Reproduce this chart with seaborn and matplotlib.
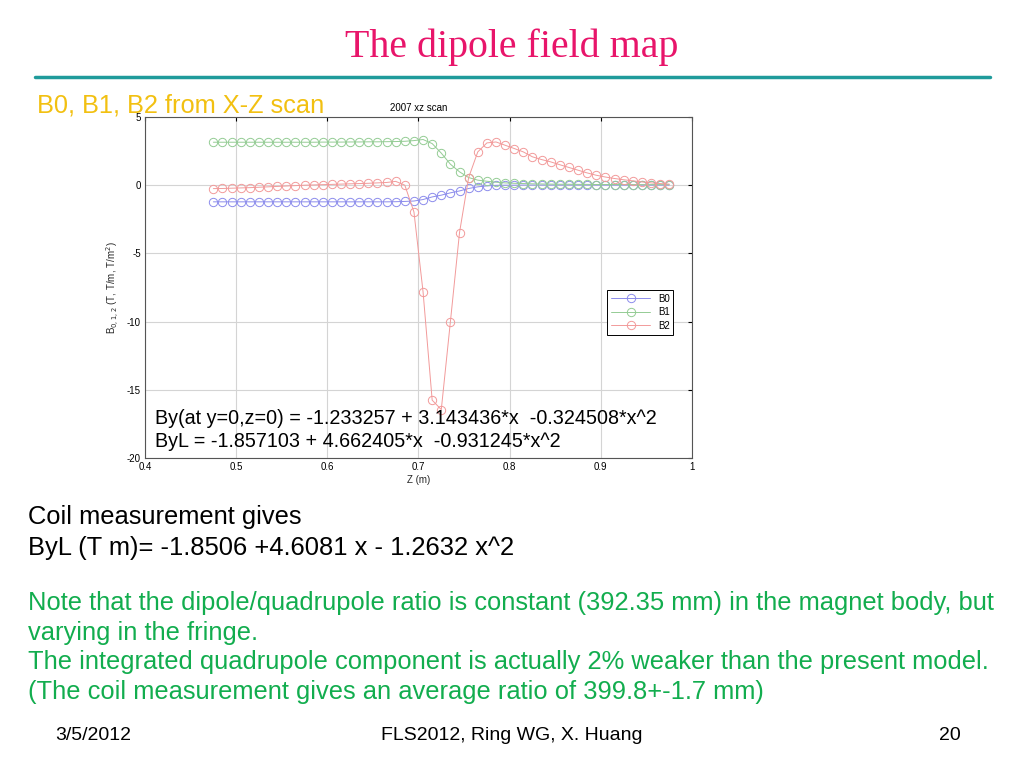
import numpy as np
import pandas as pd
import seaborn as sns
import matplotlib.pyplot as plt
from matplotlib.lines import Line2D

# data (Z in m, field components)
z = [0.475, 0.485, 0.495, 0.505, 0.515, 0.525, 0.535, 0.545, 0.555, 0.565,
     0.575, 0.585, 0.595, 0.605, 0.615, 0.625, 0.635, 0.645, 0.655, 0.665,
     0.675, 0.685, 0.695, 0.705, 0.715, 0.725, 0.735, 0.745, 0.755, 0.765,
     0.775, 0.785, 0.795, 0.805, 0.815, 0.825, 0.835, 0.845, 0.855, 0.865,
     0.875, 0.885, 0.895, 0.905, 0.915, 0.925, 0.935, 0.945, 0.955, 0.965,
     0.975]
b0 = [-1.22, -1.22, -1.22, -1.22, -1.22, -1.22, -1.22, -1.22, -1.22, -1.22,
      -1.22, -1.22, -1.22, -1.22, -1.22, -1.22, -1.22, -1.22, -1.22, -1.22,
      -1.21, -1.19, -1.16, -1.05, -0.86, -0.73, -0.56, -0.42, -0.24, -0.12,
      -0.05, -0.01, 0.0, 0.0, 0.01, 0.01, 0.01, 0.01, 0.01, 0.01,
      0.01, 0.01, 0.01, 0.01, 0.01, 0.01, 0.01, 0.01, 0.01, 0.01,
      0.01]
b1 = [3.15, 3.15, 3.15, 3.15, 3.15, 3.15, 3.15, 3.15, 3.15, 3.15,
      3.15, 3.15, 3.16, 3.16, 3.16, 3.17, 3.17, 3.18, 3.18, 3.19,
      3.2, 3.22, 3.27, 3.35, 3.05, 2.35, 1.54, 0.98, 0.56, 0.37,
      0.29, 0.22, 0.17, 0.14, 0.12, 0.1, 0.09, 0.08, 0.07, 0.07,
      0.06, 0.06, 0.05, 0.05, 0.05, 0.05, 0.04, 0.04, 0.04, 0.04,
      0.04]
b2 = [-0.25, -0.24, -0.22, -0.2, -0.18, -0.15, -0.12, -0.09, -0.06, -0.03,
      0.0, 0.02, 0.04, 0.06, 0.08, 0.1, 0.12, 0.14, 0.17, 0.2,
      0.28, 0.0, -1.96, -7.82, -15.76, -16.45, -10.0, -3.47, 0.56, 2.44,
      3.1, 3.17, 2.93, 2.69, 2.44, 2.08, 1.88, 1.71, 1.5, 1.3,
      1.1, 0.9, 0.73, 0.6, 0.49, 0.4, 0.32, 0.24, 0.17, 0.12,
      0.08]

series_names = ["B0", "B1", "B2"]
series_colors = ["#8c8cec", "#94cc94", "#f29a9a"]

fit_lines = ["By(at y=0,z=0) = -1.233257 + 3.143436*x  -0.324508*x^2",
             "ByL = -1.857103 + 4.662405*x  -0.931245*x^2"]
coil_lines = ["Coil measurement gives",
              "ByL (T m)= -1.8506 +4.6081 x - 1.2632 x^2"]
note_lines = ["Note that the dipole/quadrupole ratio is constant (392.35 mm) in the magnet body, but",
              "varying in the fringe.",
              "The integrated quadrupole component is actually 2% weaker than the present model.",
              "(The coil measurement gives an average ratio of 399.8+-1.7 mm)"]

df = pd.DataFrame({"z": z * 3,
                   "B": b0 + b1 + b2,
                   "series": sum([[n] * len(z) for n in series_names], [])})

sns.set_style("white")
plt.rcParams['font.family'] = ['Liberation Sans', 'DejaVu Sans']
plt.rcParams['axes.unicode_minus'] = False
plt.rcParams['text.color'] = 'black'

fig = plt.figure(figsize=(10.24, 7.68), dpi=100)

# slide decorations
fig.text(0.5, 1 - 47 / 768, "The dipole field map", ha="center", va="center",
         fontsize=28.7, color="#e8156a", family=["Liberation Serif", "DejaVu Serif"])
fig.add_artist(Line2D([35 / 1024, 990 / 1024], [1 - 77 / 768, 1 - 77 / 768],
                      color="#1f9b9b", lw=2.5))
fig.text(37 / 1024, 1 - 105 / 768, "B0, B1, B2 from X-Z scan", ha="left", va="center",
         fontsize=18.3, color="#f2c011")

ax = fig.add_axes([145 / 1024, 1 - 458 / 768, 547 / 1024, 341 / 768])
for name, col in zip(series_names, series_colors):
    sns.lineplot(data=df[df.series == name], x="z", y="B", ax=ax, color=col,
                 marker="o", markersize=6, markerfacecolor="none",
                 markeredgecolor=col, markeredgewidth=0.7, lw=0.7,
                 label=name, sort=False)

ax.set_xlim(0.4, 1)
ax.set_ylim(-20, 5)
ax.set_xticks([0.4, 0.5, 0.6, 0.7, 0.8, 0.9, 1.0])
ax.set_xticklabels(["0.4", "0.5", "0.6", "0.7", "0.8", "0.9", "1"])
ax.set_yticks([-20, -15, -10, -5, 0, 5])
ax.grid(True, color="#d4d4d4", lw=0.8)
ax.tick_params(direction="in", length=3, width=0.8, labelsize=7, top=True, right=True,
               colors="black", pad=3)
for s in ax.spines.values():
    s.set_color("#555555")
    s.set_linewidth(0.8)
ax.set_title("2007 xz scan", fontsize=7, pad=4)
ax.set_xlabel("Z (m)", fontsize=7, labelpad=2)
ax.set_ylabel("B$_{0,1,2}$ (T, T/m, T/m$^2$)", fontsize=7, labelpad=4)

leg = ax.legend(loc="upper right", bbox_to_anchor=(0.975, 0.507), fontsize=7,
                fancybox=False, framealpha=1, edgecolor="black", handlelength=4,
                borderpad=0.4, labelspacing=0.35)
leg.get_frame().set_linewidth(0.7)

for i, t in enumerate(fit_lines):
    ax.text(0.018, 0.117 - i * 0.068, t, transform=ax.transAxes, fontsize=14.2,
            ha="left", va="center")

for i, t in enumerate(coil_lines):
    fig.text(28 / 1024, 1 - (517 + i * 31) / 768, t, fontsize=18.4, ha="left", va="center")

for i, t in enumerate(note_lines):
    fig.text(28 / 1024, 1 - (603 + i * 29.7) / 768, t, fontsize=18.4, ha="left",
             va="center", color="#12ad4e")

foot = ["Liberation Sans Narrow", "Liberation Sans", "DejaVu Sans"]
fig.text(55 / 1024, 1 - 736 / 768, "3/5/2012", fontsize=14, ha="left", va="center", family=foot)
fig.text(512 / 1024, 1 - 736 / 768, "FLS2012, Ring WG, X. Huang", fontsize=14, ha="center",
         va="center", family=foot)
fig.text(950 / 1024, 1 - 736 / 768, "20", fontsize=14, ha="center", va="center", family=foot)

fig.savefig("out.png", dpi=100)
